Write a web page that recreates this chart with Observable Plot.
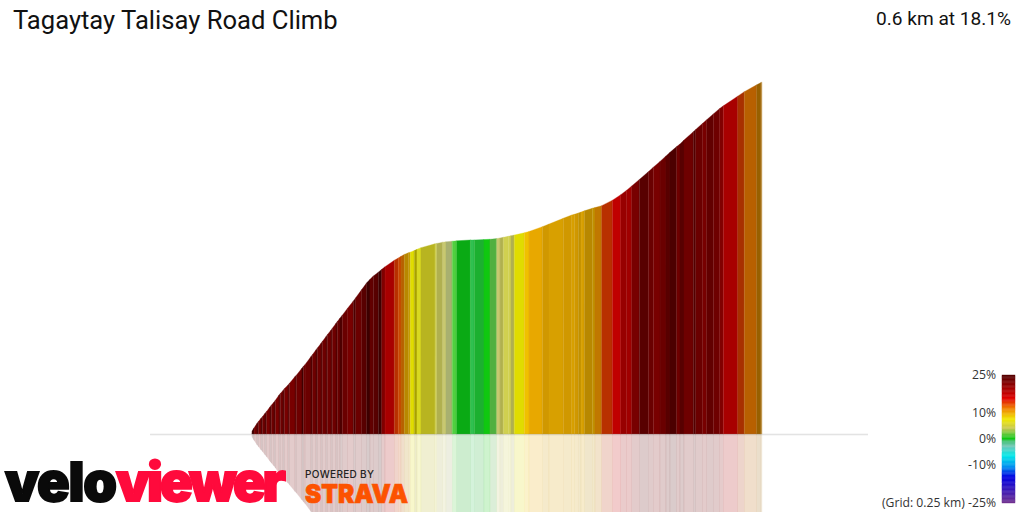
<!DOCTYPE html>
<html><head><meta charset="utf-8">
<script src="https://cdn.jsdelivr.net/npm/d3@7"></script>
<script src="https://cdn.jsdelivr.net/npm/@observablehq/plot@0.6"></script>
<style>
html,body{margin:0;padding:0;background:#fff;overflow:hidden}
#root{position:relative;width:1024px;height:512px;overflow:hidden}
#root svg{position:absolute;display:block}
.t{position:absolute;font-family:Roboto,sans-serif;color:#111;white-space:nowrap}
</style></head><body><div id="root"></div>
<script>
const title = "Tagaytay Talisay Road Climb";
const summary = "0.6 km at 18.1%";

// Band edges: distance along the climb (m)
const edgeDist = [0,2.4,5.9,7.6,10.6,12.4,15.3,17.1,21.2,22.9,25.9,27.6,31.8,33.5,36.5,38.2,42.4,44.1,50.6,52.4,58.8,60.6,62.4,69.4,71.2,75.3,77.1,81.2,82.9,87.1,88.8,93.0,94.7,98.8,100.6,103.5,106.2,112.6,119.2,122,129,134.9,138.8,142.7,148.6,152.6,156.5,167.5,172.1,175.3,179.2,183.9,186.2,191,194.1,198.8,215.3,217.3,224.4,228.2,235.6,240.8,257.2,261.5,272.9,280,287.9,291.8,295.7,301.5,304.7,308.6,320.4,325.9,341.6,349.4,366.2,376.1,379.2,383.9,387.1,391,400.4,403.5,411.4,424.1,433.8,440.8,446.7,455.7,466.2,472.1,480,487,491.7,499.6,503.5,508.2,519.2,522,530.2,534.9,542.7,550.2,554.5,571.4,579.2,593.7,598.8,600];
// Elevation above the start at each edge (m)
const edgeElev = [0.9,1.9,3.3,3.9,4.9,5.4,6.4,7.0,8.4,9.0,9.9,10.5,12.1,12.6,13.5,14.1,15.2,15.7,17.8,18.3,20.4,21.0,21.5,24.0,24.6,26.1,26.7,28.1,28.7,30.2,30.8,32.2,32.8,34.3,34.9,35.9,36.8,39.0,41.2,42.2,44.7,46.8,47.9,48.9,50.1,51.0,51.8,53.8,54.5,55.0,55.6,56.1,56.3,56.8,57.2,57.7,58.9,59.0,59.4,59.5,59.7,59.8,60.1,60.1,60.2,60.3,60.5,60.7,60.9,61.2,61.4,61.6,62.3,62.7,64.2,65.0,66.8,67.8,68.0,68.4,68.7,69.1,69.9,70.1,70.7,72.4,74.1,75.5,76.8,78.8,81.2,82.6,84.4,86.1,87.2,89.0,89.8,91.0,93.6,94.3,96.2,97.3,99.1,100.8,101.6,104.6,106.0,108.1,108.8,109.0];
// Gradient of each band (%), one fewer than the edges
const bandGrade = [24,20,23,19.5,23,20,23,19.5,23,20,23,19.5,22.5,20,23,19.5,22.5,19.5,22,20,24,20,20.5,23,20,23,20,22.5,20,22.5,20,22.5,20,22.5,20.5,23,20.5,19.5,23,20.5,22,24,21,22,24,19,17.5,15,14.5,14,12,11.5,8,5.5,7,5,6.5,4.5,4.2,4,3,1,1.5,2,0.5,2.5,4.2,4.5,6.5,6.5,4.5,8,9,10,11,10.6,11,10.6,11,11.5,10.6,12,11.5,13,15,16.5,18.5,18,19.5,22,20.5,19.5,20.5,22,23,20,22,20,22.5,20.5,19.5,21,20,19,17.5,14.7,14,13.8,13.6];

// Colour of a band by gradient
const bandScaleGrades = [0.5,1,1.5,2,2.5,3,4,4.2,4.5,5,5.5,6.5,7,8,9,10,10.6,11,11.5,12,13,13.6,13.8,14,14.5,14.7,15,16.5,17.5,18,18.5,19,19.5,20,20.5,21,22,23,24];
const bandScaleColors = ["#10c810","#0aaa14","#30c050","#1cb030","#50b040","#50d040","#a8b070","#c8c870","#b0b050","#b8b420","#a8a000","#d0d050","#d8d820","#e0dc00","#f0c000","#e8a800","#d8a000","#d09800","#c09000","#b88800","#c07800","#c09850","#986000","#b86000","#c84800","#a83000","#b83000","#c00000","#a80000","#a00000","#980000","#800000","#780000","#6e0000","#6a0000","#620000","#580000","#4c0000","#3c0000"];

// Legend
const legendStops = [-25,-15,-11,-6.7,-3,-1,0,1,4,7.5,11.8,15.7,25];
const legendColors = ["#703090","#0000e0","#0090f0","#00e8e8","#70c8b8","#40c070","#10c810","#40c830","#c8c850","#f0e800","#f08000","#e00000","#4f0000"];
const legendTicks = [25,10,0,-10,-25];
const legendLabels = ["25%","10%","0%","-10%","(Grid: 0.25 km) -25%"];

const rows = bandGrade.flatMap((g,i)=>[
  {band:i,d:edgeDist[i],e:edgeElev[i],g},
  {band:i,d:edgeDist[i+1],e:edgeElev[i+1],g}
]);

const root = document.getElementById("root");

const main = Plot.plot({
  width:1024,height:512,
  marginTop:0,marginRight:0,marginBottom:0,marginLeft:0,
  x:{domain:[-296.5,908.2],axis:null},
  y:{domain:[-24.15,134.37],axis:null},
  color:{type:"linear",domain:bandScaleGrades,range:bandScaleColors,clamp:true},
  marks:[
    Plot.areaY(rows,{x:"d",y1:0,y2:d=>-d.e,z:"band",fill:"g",stroke:"g",strokeWidth:0.3,opacity:0.2,curve:"linear"}),
    Plot.areaY(rows,{x:"d",y1:0,y2:"e",z:"band",fill:"g",stroke:"g",strokeWidth:0.3,curve:"linear"}),
    Plot.ruleY([0],{x1:-120,x2:724.7,stroke:"#999",strokeOpacity:0.28,strokeWidth:1.5})
  ]
});
main.style.left="0";main.style.top="0";
root.append(main);

const legendRamp = d3.range(-25,25,0.5).map(g=>({g,g2:g+0.5}));
const legend = Plot.plot({
  width:164,height:152,
  marginTop:0,marginRight:0,marginBottom:0,marginLeft:0,
  x:{domain:[0,1],range:[142,155],axis:null},
  y:{domain:[-25,25],range:[143,15],axis:null},
  color:{type:"linear",domain:legendStops,range:legendColors},
  style:{overflow:"visible",background:"transparent"},
  marks:[
    Plot.rect(legendRamp,{x1:()=>0,x2:()=>1,y1:"g",y2:"g2",fill:"g",stroke:"g",strokeWidth:0.4}),
    Plot.text(legendTicks,{x:()=>0,y:d=>d,text:(d,i)=>legendLabels[i],textAnchor:"end",dx:-6.5,dy:-0.5,fontSize:12.2,fontFamily:"'Open Sans',sans-serif",fill:"#333"})
  ]
});
legend.style.left="860px";legend.style.top="360px";
root.append(legend);

const titleEl=document.createElement("div");titleEl.className="t";titleEl.textContent=title;
titleEl.style.cssText="left:13px;top:4px;font-size:25.6px;line-height:32px";
root.append(titleEl);
const sumEl=document.createElement("div");sumEl.className="t";sumEl.textContent=summary;
sumEl.style.cssText="right:13px;top:7px;font-size:19.1px;line-height:24px";
root.append(sumEl);

const logo=d3.create("svg").attr("width",1024).attr("height",512).style("left","0").style("top","0");
const logoTexts=[
 {s:"velo",x:5,y:501,len:112,size:54,fill:"#0a0a0a",w:900,fam:"Inter",adj:"spacing",sw:1.8},
 {s:"viewer",x:116,y:501,len:170,size:54,fill:"#ff0a3c",w:900,fam:"Inter",adj:"spacing",sw:1.8},
 {s:"POWERED BY",x:305,y:478,len:69,size:10,fill:"#222",w:500,fam:"Inter",adj:"spacing",sw:0},
 {s:"STRAVA",x:305,y:503,len:103,size:26,fill:"#fc5200",w:900,fam:"Inter",adj:"spacingAndGlyphs",sw:0.7}
];
logo.selectAll("text").data(logoTexts).join("text")
 .attr("x",d=>d.x).attr("y",d=>d.y).attr("textLength",d=>d.len).attr("lengthAdjust",d=>d.adj)
 .attr("font-family",d=>d.fam).attr("font-weight",d=>d.w).attr("font-size",d=>d.size).attr("fill",d=>d.fill)
 .attr("stroke",d=>d.fill).attr("stroke-width",d=>d.sw)
 .text(d=>d.s);
root.append(logo.node());
</script></body></html>
